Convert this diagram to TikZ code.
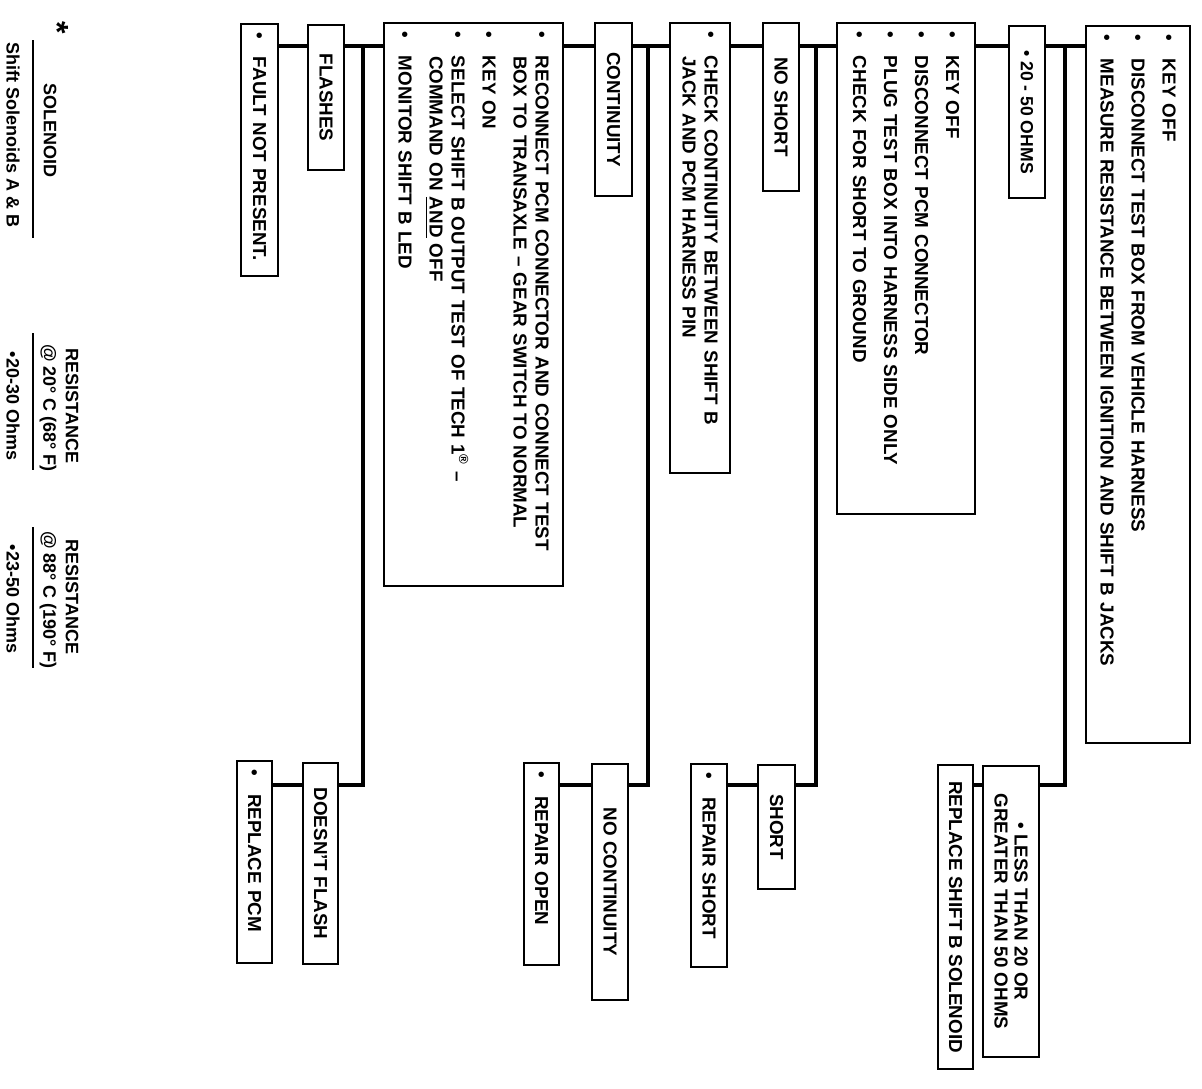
\documentclass[tikz,border=0pt]{standalone}
\usepackage{fontspec}
\setmainfont{Liberation Sans}
\newcommand{\bul}{\makebox[12.5pt][l]{\textbullet}}
\newcommand{\ind}{\hspace*{12.5pt}}
\tikzset{
  stepbox/.style={draw, line width=1pt, rotate=-90, anchor=west, inner xsep=4pt, inner ysep=2pt,
    minimum height=18pt, font=\fontsize{9.4}{11}\selectfont\bfseries},
  listbox/.style={stepbox, align=left},
  tagbox/.style={stepbox, align=center},
  legend/.style={rotate=-90, inner sep=0pt, font=\fontsize{9}{11}\selectfont\bfseries},
  link/.style={line width=2.2pt},
  rulel/.style={line width=1pt}
}
\begin{document}
\begin{tikzpicture}[x=0.5pt,y=-0.5pt]
\useasboundingbox (0,0) rectangle (1202,1088);
\node[listbox, text width=118pt, minimum height=18.5pt] (fault) at (259.5,23) {\bul FAULT NOT PRESENT.};
\node[tagbox, minimum width=72.5pt] (flashes) at (326,24) {FLASHES};
\node[listbox, text width=273.5pt, minimum height=89.5pt] (reconnect) at (473.5,22)
  {\bul RECONNECT PCM CONNECTOR AND CONNECT TEST\\
   \ind BOX TO TRANSAXLE -- GEAR SWITCH TO NORMAL\\[4.5pt]
   \bul KEY ON\\[4.5pt]
   \bul SELECT SHIFT B OUTPUT TEST OF TECH 1\textsuperscript{®} --\\
   \ind COMMAND ON \underline{AND} OFF\\[4.5pt]
   \bul MONITOR SHIFT B LED};
\node[tagbox, minimum width=86.5pt, minimum height=18.5pt] (continuity) at (613.5,22) {CONTINUITY};
\node[listbox, text width=217pt, minimum height=30pt] (checkcont) at (700,22)
  {\bul CHECK CONTINUITY BETWEEN SHIFT B\\
   \ind JACK AND PCM HARNESS PIN};
\node[tagbox, minimum width=84pt] (noshort) at (781,22) {NO SHORT};
\node[listbox, text width=237.5pt, minimum height=69pt] (pcmoff) at (906,22)
  {\bul KEY OFF\\[4.5pt]
   \bul DISCONNECT PCM CONNECTOR\\[4.5pt]
   \bul PLUG TEST BOX INTO HARNESS SIDE ONLY\\[4.5pt]
   \bul CHECK FOR SHORT TO GROUND};
\node[tagbox, minimum width=86pt, font=\fontsize{8.8}{11}\selectfont\bfseries] (ohms) at (1027,25) {\textbullet\ 20 - 50 OHMS};
\node[listbox, text width=350.5pt, minimum height=52pt] (measure) at (1138,25)
  {\bul KEY OFF\\[4.5pt]
   \bul DISCONNECT TEST BOX FROM VEHICLE HARNESS\\[4.5pt]
   \bul MEASURE RESISTANCE BETWEEN IGNITION AND SHIFT B JACKS};
\node[listbox, text width=93pt, minimum height=17.5pt] (replacepcm) at (254.5,760) {\bul REPLACE PCM};
\node[tagbox, minimum width=100.5pt, minimum height=17.5pt] (doesntflash) at (320.5,762) {DOESN'T FLASH};
\node[listbox, text width=93pt, minimum height=17.5pt] (repairopen) at (541.5,762) {\bul REPAIR OPEN};
\node[tagbox, minimum width=118pt] (nocont) at (610,763) {NO CONTINUITY};
\node[listbox, text width=93.5pt] (repairshort) at (709,763) {\bul REPAIR SHORT};
\node[tagbox, minimum width=62pt, minimum height=18.5pt] (short) at (776.5,764) {SHORT};
\node[tagbox, minimum width=152pt, minimum height=17.5pt] (replaceshift) at (955.5,764) {REPLACE SHIFT B SOLENOID};
\node[tagbox, minimum width=145.5pt, minimum height=28pt, font=\fontsize{9.4}{10}\selectfont\bfseries] (lessthan) at (1011,765)
  {\textbullet\ LESS THAN 20 OR\\GREATER THAN 50 OHMS};
\coordinate (topline) at (0,46);
\coordinate (botline) at (0,785);
\coordinate (jflash) at (363,46);
\coordinate (jcont) at (648,46);
\coordinate (jshort) at (816,46);
\coordinate (johms) at (1065,46);
\foreach \a/\b in {fault/flashes,flashes/reconnect,reconnect/continuity,continuity/checkcont,
  checkcont/noshort,noshort/pcmoff,pcmoff/ohms,ohms/measure}
  \draw[link] (\a.north |- topline) -- (\b.south |- topline);
\foreach \j/\b in {jflash/doesntflash,jcont/nocont,jshort/short,johms/lessthan}
  \draw[link] (\j) |- (\b.north |- botline);
\foreach \a/\b in {replacepcm/doesntflash,repairopen/nocont,repairshort/short,replaceshift/lessthan}
  \draw[link] (\a.north |- botline) -- (\b.south |- botline);
\node[legend, font=\fontsize{16}{16}\selectfont\bfseries] (star) at (58,28) {*};
\node[legend] (solhead) at (50,130) {SOLENOID};
\node[legend] (solname) at (13,135) {Shift Solenoids A \& B};
\draw[rulel] (33,40) -- (33,238);
\node[legend] (coldhead) at (72,406) {RESISTANCE};
\node[legend] (coldtemp) at (48,408) {@ 20° C (68° F)};
\node[legend] (coldval) at (13,406) {\textbullet20-30 Ohms};
\draw[rulel] (33,333) -- (33,470);
\node[legend] (hothead) at (72,597) {RESISTANCE};
\node[legend] (hottemp) at (48,600) {@ 88° C (190° F)};
\node[legend] (hotval) at (13,599) {\textbullet23-50 Ohms};
\draw[rulel] (33,527) -- (33,668);
\end{tikzpicture}
\end{document}
